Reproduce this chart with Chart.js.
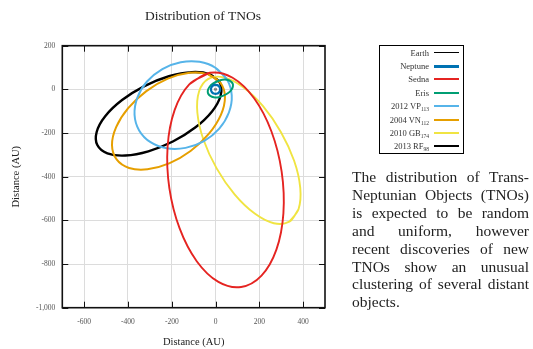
<!DOCTYPE html>
<html>
<head>
<meta charset="utf-8">
<script src="https://cdn.jsdelivr.net/npm/chart.js@4.4.1/dist/chart.umd.min.js"></script>
<style>
  html, body { margin: 0; padding: 0; background: #fff; }
  body { width: 533px; height: 349px; position: relative; overflow: hidden; font-family: "Liberation Serif", "DejaVu Serif", serif; }
  #wrap { position: absolute; left: 0; top: 0; width: 406px; height: 349px; }
  #legend { position: absolute; left: 379px; top: 45px; width: 85px; border: 1px solid #000; box-sizing: border-box; background: transparent; will-change: transform; }
  .row { height: 13.4px; display: flex; align-items: center; justify-content: flex-end; padding-right: 4px; font-size: 8.5px; }
  .row span.lbl { color: #333; }
  .row sub { font-size: 5.5px; vertical-align: -2px; line-height: 0; }
  .row .swatch { width: 25px; height: 0; margin-left: 5px; }
  #note { position: absolute; left: 352px; top: 168px; width: 177px; font-size: 15.5px; line-height: 17.9px; color: #222; will-change: transform; }
  #note div { text-align: justify; text-align-last: justify; }
  #note div.last { text-align-last: left; }
</style>
</head>
<body>
<div id="wrap"><canvas id="tno" width="406" height="349"></canvas></div>
<div id="legend"></div>
<div id="note">
  <div>The distribution of Trans-</div>
  <div>Neptunian Objects (TNOs)</div>
  <div>is expected to be random</div>
  <div>and uniform, however</div>
  <div>recent discoveries of new</div>
  <div>TNOs show an unusual</div>
  <div>clustering of several distant</div>
  <div class="last">objects.</div>
</div>
<script>
// orbit outlines, [x, y] in AU
const names = ["Earth", "Neptune", "Sedna", "Eris", "2012 VP", "2004 VN", "2010 GB", "2013 RF"];
const subs = ["", "", "", "", "113", "112", "174", "98"];
const xTicks = [-600, -400, -200, 0, 200, 400];
const yTicks = [-1000, -800, -600, -400, -200, 0, 200];

const earth = [[1, 0], [0, 1], [-1, 0], [0, -1]];
const neptune = [[21, 0], [19.4, 8], [14.8, 14.8], [8, 19.4], [0, 21], [-8, 19.4], [-14.8, 14.8], [-19.4, 8], [-21, 0], [-19.4, -8], [-14.8, -14.8], [-8, -19.4], [0, -21], [8, -19.4], [14.8, -14.8], [19.4, -8]];
const sedna = [[-26, 76], [-119, 24], [-187, -95], [-219, -262], [-211, -452], [-164, -637], [-86, -787], [13, -882], [117, -905], [210, -853], [278, -734], [310, -568], [302, -377], [255, -192], [177, -42], [78, 53]];
const eris = [[78, 27], [68, 38], [52, 44], [31, 44], [9, 37], [-12, 26], [-27, 12], [-35, -4], [-34, -19], [-24, -30], [-8, -36], [13, -36], [36, -29], [56, -18], [71, -4], [79, 12]];
const vp113 = [[53, 44], [1, 98], [-73, 126], [-159, 124], [-243, 93], [-313, 36], [-357, -38], [-370, -116], [-349, -188], [-297, -242], [-223, -270], [-137, -268], [-53, -237], [17, -180], [61, -106], [74, -28]];
const vn112 = [[22, 31], [-35, 70], [-119, 76], [-218, 49], [-316, -8], [-399, -86], [-454, -173], [-473, -255], [-452, -321], [-395, -360], [-311, -366], [-212, -339], [-114, -282], [-31, -204], [24, -118], [43, -35]];
const gb174 = [[337, -606], [379, -549], [387, -451], [359, -327], [299, -196], [217, -77], [125, 11], [38, 55], [-33, 48], [-75, -9], [-83, -107], [-55, -231], [5, -362], [87, -481], [179, -569], [266, -613]];
const rf98 = [[20, 31], [-26, 69], [-108, 79], [-213, 60], [-325, 15], [-427, -49], [-504, -123], [-543, -195], [-540, -255], [-494, -293], [-412, -303], [-307, -284], [-195, -239], [-93, -175], [-16, -101], [23, -29]];

const orbits = [earth, neptune, sedna, eris, vp113, vn112, gb174, rf98];
const colors = ["#000000", "#0072B2", "#E52421", "#009E73", "#56B4E9", "#E69F00", "#F0E442", "#000000"];
const widths = [2.5, 2.2, 1.9, 2, 2, 2, 1.9, 2.4];
const swatchWidths = [1.5, 3, 2, 2.5, 2, 2, 2, 2];

const serif = "'Liberation Serif', 'DejaVu Serif', serif";

// repeat the first two points so the spline closes smoothly
function loop(pts) {
  return pts.concat(pts.slice(0, 2)).map(p => ({ x: p[0], y: p[1] }));
}

const frame = {
  id: "frame",
  afterDatasetsDraw(chart) {
    const { ctx, chartArea: a, scales: { x, y } } = chart;
    ctx.save();
    ctx.strokeStyle = "#111";
    ctx.lineWidth = 1;
    ctx.beginPath();
    xTicks.forEach(v => {
      const px = Math.round(x.getPixelForValue(v)) + 0.5;
      ctx.moveTo(px, a.bottom); ctx.lineTo(px, a.bottom - 6);
      ctx.moveTo(px, a.top); ctx.lineTo(px, a.top + 6);
    });
    yTicks.forEach(v => {
      const py = Math.round(y.getPixelForValue(v)) + 0.5;
      ctx.moveTo(a.left, py); ctx.lineTo(a.left + 6, py);
      ctx.moveTo(a.right, py); ctx.lineTo(a.right - 6, py);
    });
    ctx.stroke();
    ctx.lineWidth = 1.6;
    ctx.strokeRect(a.left, a.top, a.right - a.left, a.bottom - a.top);
    ctx.restore();
  }
};

const chart = new Chart(document.getElementById("tno"), {
  type: "scatter",
  data: {
    datasets: orbits.map((o, i) => ({
      label: names[i] + subs[i],
      data: loop(o),
      showLine: true,
      borderColor: colors[i],
      backgroundColor: colors[i],
      borderWidth: widths[i],
      pointRadius: 0,
      tension: 0.35
    }))
  },
  options: {
    responsive: false,
    animation: false,
    devicePixelRatio: 1,
    layout: { padding: 0 },
    plugins: {
      legend: { display: false },
      tooltip: { enabled: false },
      title: {
        display: true,
        text: "Distribution of TNOs",
        color: "#222",
        font: { family: serif, size: 13.5, weight: "normal" },
        padding: { top: 8, bottom: 21.5 }
      }
    },
    scales: {
      x: {
        type: "linear",
        min: -700,
        max: 500,
        afterBuildTicks: s => { s.ticks = xTicks.map(v => ({ value: v })); },
        afterFit: s => { s.height = 41.3; },
        grid: { color: "#dcdcdc", lineWidth: 1, drawTicks: false },
        border: { display: false },
        ticks: { color: "#555", padding: 10, maxRotation: 0, font: { family: serif, size: 7.5 } },
        title: { display: true, text: "Distance (AU)", color: "#222", font: { family: serif, size: 10.5 }, padding: { top: 4, bottom: 0 } }
      },
      y: {
        type: "linear",
        min: -1000,
        max: 200,
        afterBuildTicks: s => { s.ticks = yTicks.map(v => ({ value: v })); },
        afterFit: s => { s.width = 62.3; },
        grid: { color: "#dcdcdc", lineWidth: 1, drawTicks: false },
        border: { display: false },
        ticks: { color: "#555", padding: 7, font: { family: serif, size: 7.5 } },
        title: { display: true, text: "Distance (AU)", color: "#222", font: { family: serif, size: 10.5 }, padding: { top: 9.5, bottom: 0 } }
      },
      spacer: {
        type: "linear",
        position: "right",
        display: true,
        afterFit: s => { s.width = 81; },
        grid: { display: false },
        border: { display: false },
        ticks: { display: false }
      }
    }
  },
  plugins: [frame]
});

// legend: label on the left, line sample on the right
const legendEl = document.getElementById("legend");
chart.data.datasets.forEach((ds, i) => {
  const row = document.createElement("div");
  row.className = "row";
  const label = document.createElement("span");
  label.className = "lbl";
  label.innerHTML = names[i] + (subs[i] ? "<sub>" + subs[i] + "</sub>" : "");
  const sw = document.createElement("span");
  sw.className = "swatch";
  sw.style.borderTop = swatchWidths[i] + "px solid " + ds.borderColor;
  row.appendChild(label);
  row.appendChild(sw);
  legendEl.appendChild(row);
});
</script>
</body>
</html>
